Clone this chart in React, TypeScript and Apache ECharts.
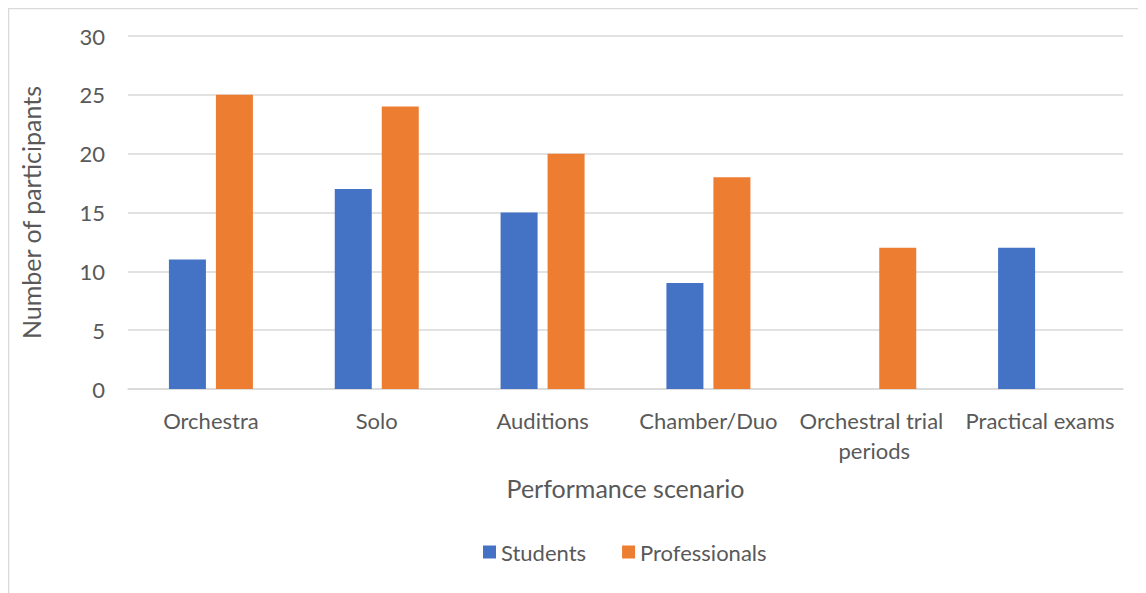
import React, { useEffect, useRef } from "react";
import * as echarts from "echarts";

const categories = [
  "Orchestra",
  "Solo",
  "Auditions",
  "Chamber/Duo",
  "Orchestral trial periods",
  "Practical exams",
];
const students = [11, 17, 15, 9, null, 12];
const professionals = [25, 24, 20, 18, 12, null];
const yTicks = [0, 5, 10, 15, 20, 25, 30];

const FONT = "Lato, 'Open Sans', sans-serif";
const TEXT = "#595959";
const GRID = "#d9d9d9";

export default function App() {
  const ref = useRef<HTMLDivElement>(null);

  useEffect(() => {
    if (!ref.current) return;
    document.body.style.overflow = "hidden";
    const chart = echarts.init(ref.current, undefined, { renderer: "svg" });
    chart.setOption({
      animation: false,
      textStyle: { fontFamily: FONT, color: TEXT },
      graphic: [
        {
          type: "line",
          shape: { x1: 0.5, y1: 0, x2: 0.5, y2: 600 },
          style: { stroke: GRID, lineWidth: 1.5 },
        },
        {
          type: "line",
          shape: { x1: 0, y1: 0.5, x2: 1200, y2: 0.5 },
          style: { stroke: GRID, lineWidth: 1.5 },
        },
      ],
      grid: { left: 120, right: 23, top: 28, bottom: 204, containLabel: false },
      legend: {
        top: 528,
        left: 470,
        itemWidth: 13,
        itemHeight: 13,
        itemGap: 36,
        icon: "rect",
        textStyle: { fontFamily: FONT, fontSize: 22, color: TEXT },
        data: ["Students", "Professionals"],
      },
      xAxis: {
        type: "category",
        data: categories,
        name: "Performance scenario",
        nameLocation: "middle",
        nameGap: 86,
        nameTextStyle: { fontFamily: FONT, fontSize: 25, color: TEXT },
        axisLine: { lineStyle: { color: GRID, width: 1.5 } },
        axisTick: { show: false },
        axisLabel: {
          fontFamily: FONT,
          fontSize: 22,
          color: TEXT,
          margin: 16,
          lineHeight: 30,
          interval: 0,
          width: 160,
          overflow: "break",
        },
      },
      yAxis: {
        type: "value",
        min: yTicks[0],
        max: yTicks[yTicks.length - 1],
        interval: yTicks[1] - yTicks[0],
        name: "Number of participants",
        nameLocation: "middle",
        nameGap: 85,
        nameRotate: 90,
        nameTextStyle: { fontFamily: FONT, fontSize: 25, color: TEXT },
        axisLine: { show: false },
        axisTick: { show: false },
        axisLabel: { fontFamily: FONT, fontSize: 22, color: TEXT, margin: 23 },
        splitLine: { lineStyle: { color: GRID, width: 1.5 } },
      },
      series: [
        {
          name: "Students",
          type: "bar",
          data: students,
          barWidth: 37,
          barGap: "27%",
          itemStyle: { color: "#4472C4" },
        },
        {
          name: "Professionals",
          type: "bar",
          data: professionals,
          barWidth: 37,
          barGap: "27%",
          itemStyle: { color: "#ED7D31" },
        },
      ],
    });
    return () => chart.dispose();
  }, []);

  return <div ref={ref} style={{ width: 1138, height: 585 }} />;
}
